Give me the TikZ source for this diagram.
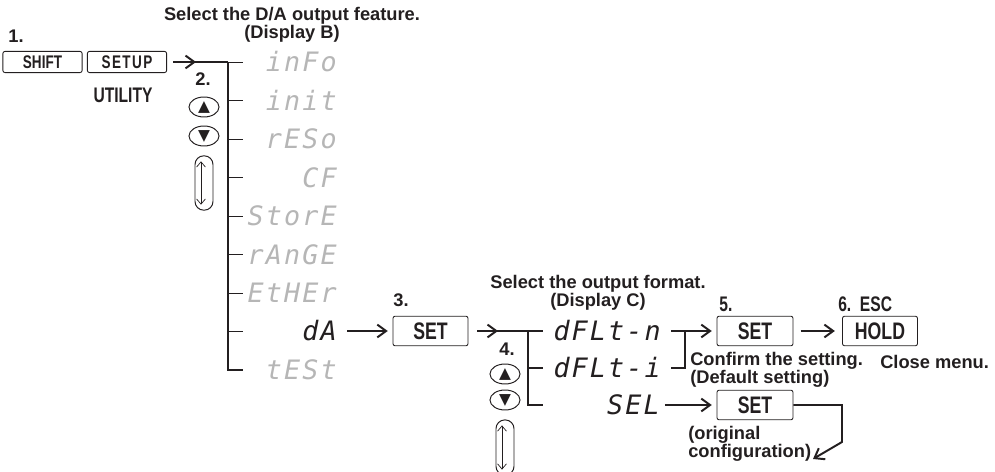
\documentclass[tikz,border=0pt]{standalone}
\usepackage{fontspec}
\setmainfont{Liberation Sans}
\newfontfamily\keyfont[FakeStretch=0.74]{Liberation Sans}
\newfontfamily\segfont[LetterSpace=8]{DejaVu Sans Mono}
\newfontfamily\symfont{DejaVu Sans}
\usetikzlibrary{arrows.meta,positioning,calc,shapes.geometric}
\definecolor{DaInk}{RGB}{35,31,32}
\definecolor{DaSeg}{RGB}{182,182,182}
\tikzset{
  da/key/.style={
    draw=DaInk,
    line width=0.6pt,
    rounded corners=1.5pt,
    fill=white,
    text=DaInk,
    inner sep=0pt,
    font=\keyfont\bfseries\fontsize{17}{17}\selectfont
  },
  da/smallkey/.style={da/key, minimum width=1.98cm, minimum height=0.53cm,
    font=\keyfont\bfseries\fontsize{13}{13}\selectfont},
  da/bigkey/.style={da/key, minimum width=1.9cm, minimum height=0.74cm},
  da/label/.style={font=\bfseries\fontsize{13}{13}\selectfont, text=DaInk, align=center, inner sep=0pt},
  da/note/.style={da/label, anchor=west, align=left},
  da/keylabel/.style={font=\keyfont\bfseries\fontsize{15}{15}\selectfont, text=DaInk, inner sep=0pt},
  da/seg/.style={font=\segfont\itshape\fontsize{19}{19}\selectfont, text=DaSeg, anchor=east,
    inner sep=0pt, text height=13.8pt, text depth=0pt},
  da/segon/.style={da/seg, text=DaInk},
  da/btn/.style={ellipse, draw=DaInk, line width=0.7pt, minimum width=0.75cm, minimum height=0.5cm,
    inner sep=0pt, font=\symfont\fontsize{11}{11}\selectfont, text=DaInk},
  da/wheel/.style={draw=DaInk, line width=0.7pt, rounded corners=0.22cm, minimum width=0.45cm, inner sep=0pt},
  da/spin/.style={{Straight Barb[length=1.3mm,width=2.2mm]}-{Straight Barb[length=1.3mm,width=2.2mm]}, line width=0.5pt, draw=DaInk},
  da/line/.style={line width=1.4pt, draw=DaInk},
  da/arrow/.style={-{Straight Barb[length=2.2mm,width=3.2mm]}, line width=1.4pt, draw=DaInk},
  da/bar/.style={line width=1.6pt, draw=DaInk},
  da/tick/.style={line width=0.6pt, draw=DaInk}
}

\begin{document}
\begin{tikzpicture}[x=0.025cm,y=-0.025cm]
  \useasboundingbox (0,0) rectangle (995,472);

  % step 1
  \node[da/label] (n1) at (16,36) {1.};
  \node[da/smallkey] (shift) at (42.5,62) {SHIFT};
  \node[da/smallkey] (setup) at (127,62) {S\kern1pt E\kern1pt T\kern1pt U\kern1pt P};
  \node[da/keylabel] (utility) at (123,95) {UTILITY};

  % display B
  \node[da/label] (titleB) at (292,25) {Select the D/A output feature.\\(Display B)};
  \coordinate (bTop) at (228,62);
  \coordinate (bArr) at (196,62);
  \foreach \y/\txt/\nm in {62/inFo/info, 100.5/init/init, 139/rESo/reso, 177.5/CF/cf,
      216/StorE/store, 254.5/rAnGE/range, 293/EtHEr/ether}{
    \node[da/seg] (\nm) at (337,\y) {\txt};
    \draw[da/tick] (bTop |- \nm.east) -- ++(15,0);
  }
  \node[da/segon] (da) at (337,331) {dA};
  \draw[da/tick] (bTop |- da.east) -- ++(15,0);
  \node[da/seg] (test) at (337,370) {tESt};
  \draw[da/line, shorten <=0.15cm] (setup) -- (bTop);
  \draw[da/arrow, shorten <=0.15cm] (setup) -- (bArr);
  \draw[da/bar] (bTop) -- (bTop |- test.east) -- ++(15,0);

  % step 2
  \node[da/label] (n2) at (203,79) {2.};
  \node[da/btn] (upB) at (204,107) {▲};
  \node[da/btn] (downB) at (204,136) {▼};
  \node[da/wheel, minimum height=1.36cm] (wheelB) at (204,183) {};
  \draw[da/spin] ([shift={(-3,6)}]wheelB.north) -- ([shift={(-3,-6)}]wheelB.south);

  % step 3
  \node[da/label] (n3) at (401,300) {3.};
  \node[da/bigkey, minimum width=1.875cm] (set3) at (430.5,331) {SET};
  \draw[da/arrow, shorten <=0.25cm, shorten >=0.12cm] (da) -- (set3);

  % display C
  \node[da/label] (titleC) at (598,293) {Select the output format.\\(Display C)};
  \coordinate (cTop) at (528,331);
  \coordinate (cArr) at (498,331);
  \node[da/segon] (dfn) at (661,331) {dFLt-n};
  \node[da/segon] (dfi) at (661,368) {dFLt-i};
  \node[da/segon] (sel) at (660,405) {SEL};
  \draw[da/line, shorten <=0.22cm] (set3) -- (cTop) -- ++(15,0);
  \draw[da/arrow, shorten <=0.22cm] (set3) -- (cArr);
  \draw[da/line] (cTop) -- (cTop |- sel.east) -- ++(15,0);
  \draw[da/line] (cTop |- dfi.east) -- ++(15,0);

  % step 4
  \node[da/label] (n4) at (507,349) {4.};
  \node[da/btn] (upC) at (505,374) {▲};
  \node[da/btn] (downC) at (505,400) {▼};
  \node[da/wheel, minimum height=1.38cm] (wheelC) at (505,447.5) {};
  \draw[da/spin] ([shift={(-3,6)}]wheelC.north) -- ([shift={(-3,-6)}]wheelC.south);

  % step 5 and 6
  \node[da/keylabel] (n5) at (726,304) {5.};
  \node[da/bigkey] (set5) at (755,331) {SET};
  \coordinate (brk) at (685,331);
  \draw[da/arrow, shorten <=0.25cm, shorten >=0.12cm] (dfn) -- (set5);
  \draw[da/line, shorten <=0.25cm] (dfi) -- (brk |- dfi.east) -- (brk);
  \node[da/note] (confirm) at (690,370) {Confirm the setting.\\(Default setting)};
  \node[da/keylabel, anchor=west] (n6) at (838,304) {6.\ \ ESC};
  \node[da/bigkey, minimum width=1.875cm] (hold) at (880,331) {HOLD};
  \draw[da/arrow, shorten <=0.18cm, shorten >=0.18cm] (set5) -- (hold);
  \node[da/note] (close) at (880,362) {Close menu.};

  % SEL
  \node[da/bigkey] (set6) at (755,405) {SET};
  \draw[da/arrow, shorten <=0.12cm, shorten >=0.12cm] (sel) -- (set6);
  \coordinate (rtTurn) at (842,442);
  \coordinate (rtEnd) at (813,459);
  \draw[da/arrow] (set6) -- (set6 -| rtTurn) -- (rtTurn) -- (rtEnd);
  \node[da/note] (orig) at (688,444) {(original\\configuration)};
\end{tikzpicture}
\end{document}
